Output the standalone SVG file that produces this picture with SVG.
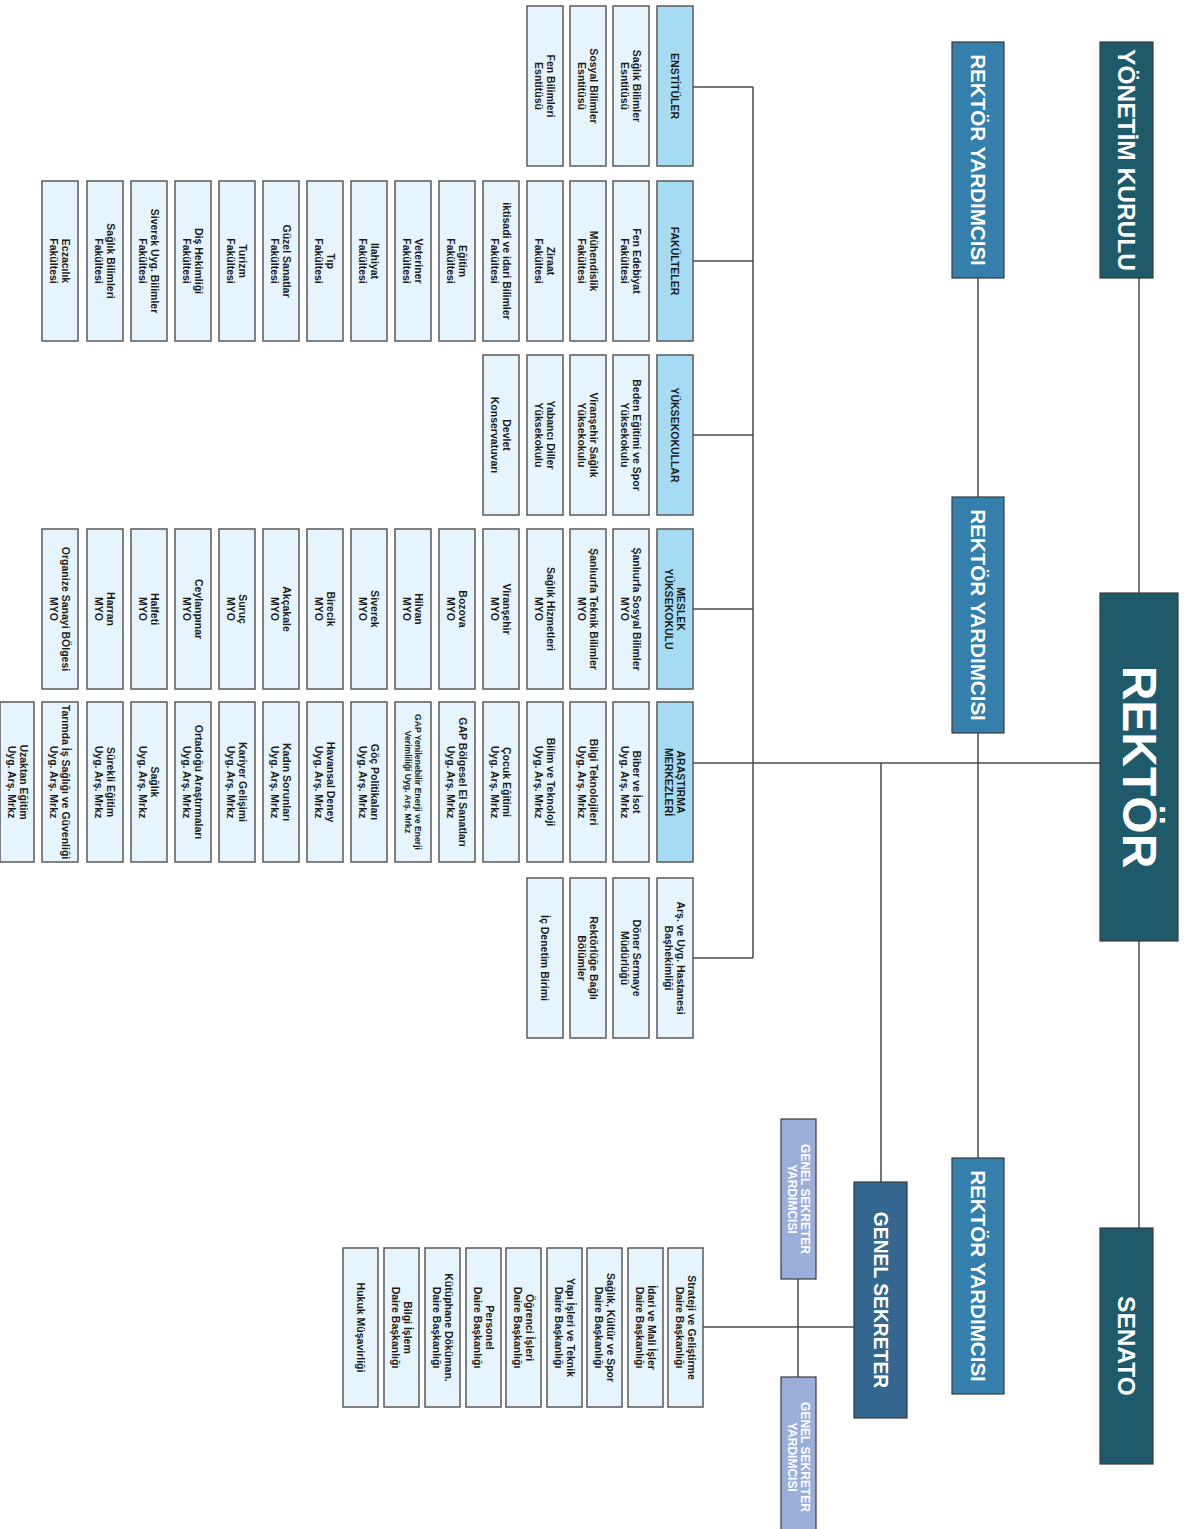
<svg xmlns="http://www.w3.org/2000/svg" width="1184" height="1529" viewBox="0 0 1184 1529">
<style>
.bg{fill:#ffffff}
.c{fill:#e6f5fd;stroke:#5a5a5a;stroke-width:1.5}
.h{fill:#a6dbf4;stroke:#5a5a5a;stroke-width:1.5}
.dk{fill:#1f5a6b;stroke:#3a3a3a;stroke-width:1.2}
.ry{fill:#347fab;stroke:#3a3a3a;stroke-width:1.2}
.gs{fill:#33678f;stroke:#3a3a3a;stroke-width:1.2}
.gsy{fill:#9aaed9;stroke:#3a3a3a;stroke-width:1.2}
text{font-family:"Liberation Sans",Arial,sans-serif;font-weight:bold;text-anchor:middle;dominant-baseline:central}
.t{font-size:10.5px;fill:#1a1a1a}
.ts{font-size:8.6px;fill:#1a1a1a}
.w{fill:#ffffff}
.lines line{stroke:#4a4a4a;stroke-width:1.5;fill:none}
</style>
<rect class="bg" x="0" y="0" width="1184" height="1529"/>

<g id="connectors" class="lines">
<line x1="1139" y1="278" x2="1139" y2="1228"/>
<line x1="978" y1="278" x2="978" y2="497"/>
<line x1="978" y1="733" x2="978" y2="1158"/>
<line x1="692" y1="763" x2="1100" y2="763"/>
<line x1="881" y1="763" x2="881" y2="1182"/>
<line x1="753" y1="87" x2="753" y2="958"/>
<line x1="692" y1="87" x2="753" y2="87"/>
<line x1="692" y1="261" x2="753" y2="261"/>
<line x1="692" y1="435" x2="753" y2="435"/>
<line x1="692" y1="609" x2="753" y2="609"/>
<line x1="692" y1="958" x2="753" y2="958"/>
<line x1="703" y1="1327" x2="854" y2="1327"/>
<line x1="798" y1="1279" x2="798" y2="1377"/>
</g>

<!-- top level -->
<g id="yonetim-kurulu"><rect class="dk" x="1100" y="42" width="53" height="236"/><text class="w" font-size="24.5" transform="translate(1126.5,160) rotate(90)">YÖNETİM KURULU</text></g>
<g id="rektor"><rect class="dk" x="1100" y="593" width="78" height="348"/><text class="w" font-size="48" transform="translate(1139,767) rotate(90)">REKTÖR</text></g>
<g id="senato"><rect class="dk" x="1100" y="1228" width="53" height="236"/><text class="w" font-size="24.5" transform="translate(1126.5,1346) rotate(90)">SENATO</text></g>
<g id="rektor-yardimcisi-1"><rect class="ry" x="952" y="42" width="52" height="236"/><text class="w" font-size="20.6" transform="translate(978,160) rotate(90)">REKTÖR YARDIMCISI</text></g>
<g id="rektor-yardimcisi-2"><rect class="ry" x="952" y="497" width="52" height="236"/><text class="w" font-size="20.6" transform="translate(978,615) rotate(90)">REKTÖR YARDIMCISI</text></g>
<g id="rektor-yardimcisi-3"><rect class="ry" x="952" y="1158" width="52" height="236"/><text class="w" font-size="20.6" transform="translate(978,1276) rotate(90)">REKTÖR YARDIMCISI</text></g>
<g id="genel-sekreter"><rect class="gs" x="854" y="1182" width="53" height="236"/><text class="w" font-size="19.3" transform="translate(880.5,1300) rotate(90)">GENEL SEKRETER</text></g>
<g id="gs-yardimcisi-1"><rect class="gsy" x="781" y="1119" width="35" height="160"/><text class="w" font-size="12" transform="translate(798.5,1199) rotate(90)"><tspan x="0" y="-6.5">GENEL SEKRETER</tspan><tspan x="0" y="6.5">YARDIMCISI</tspan></text></g>
<g id="gs-yardimcisi-2"><rect class="gsy" x="781" y="1377" width="35" height="160"/><text class="w" font-size="12" transform="translate(798.5,1457) rotate(90)"><tspan x="0" y="-6.5">GENEL SEKRETER</tspan><tspan x="0" y="6.5">YARDIMCISI</tspan></text></g>

<!-- Row 1: Enstitüler -->
<g id="enstituler"><rect class="h" x="657" y="6" width="36" height="160"/><text class="t" transform="translate(675,86) rotate(90)">ENSTİTÜLER</text></g>
<g id="saglik-bilimler-enst"><rect class="c" x="613" y="6" width="36" height="160"/><text class="t" transform="translate(631,86) rotate(90)"><tspan x="0" y="-6">Sağlık Bilimler</tspan><tspan x="0" y="6">Esntitüsü</tspan></text></g>
<g id="sosyal-bilimler-enst"><rect class="c" x="570" y="6" width="36" height="160"/><text class="t" transform="translate(588,86) rotate(90)"><tspan x="0" y="-6">Sosyal Bilimler</tspan><tspan x="0" y="6">Esntitüsü</tspan></text></g>
<g id="fen-bilimleri-enst"><rect class="c" x="527" y="6" width="36" height="160"/><text class="t" transform="translate(545,86) rotate(90)"><tspan x="0" y="-6">Fen Bilimleri</tspan><tspan x="0" y="6">Esntitüsü</tspan></text></g>

<!-- Row 2: Fakülteler -->
<g id="fakulteler"><rect class="h" x="657" y="181" width="36" height="160"/><text class="t" transform="translate(675,261) rotate(90)">FAKÜLTELER</text></g>
<g id="fen-edebiyat"><rect class="c" x="613" y="181" width="36" height="160"/><text class="t" transform="translate(631,261) rotate(90)"><tspan x="0" y="-6">Fen Edebiyat</tspan><tspan x="0" y="6">Fakültesi</tspan></text></g>
<g id="muhendislik"><rect class="c" x="570" y="181" width="36" height="160"/><text class="t" transform="translate(588,261) rotate(90)"><tspan x="0" y="-6">Mühendislik</tspan><tspan x="0" y="6">Fakültesi</tspan></text></g>
<g id="ziraat"><rect class="c" x="527" y="181" width="36" height="160"/><text class="t" transform="translate(545,261) rotate(90)"><tspan x="0" y="-6">Ziraat</tspan><tspan x="0" y="6">Fakültesi</tspan></text></g>
<g id="iktisadi"><rect class="c" x="483" y="181" width="36" height="160"/><text class="t" transform="translate(501,261) rotate(90)"><tspan x="0" y="-6">iktisadi ve idari Bilimler</tspan><tspan x="0" y="6">Fakültesi</tspan></text></g>
<g id="egitim"><rect class="c" x="439" y="181" width="36" height="160"/><text class="t" transform="translate(457,261) rotate(90)"><tspan x="0" y="-6">Eğitim</tspan><tspan x="0" y="6">Fakültesi</tspan></text></g>
<g id="veteriner"><rect class="c" x="395" y="181" width="36" height="160"/><text class="t" transform="translate(413,261) rotate(90)"><tspan x="0" y="-6">Veteriner</tspan><tspan x="0" y="6">Fakültesi</tspan></text></g>
<g id="ilahiyat"><rect class="c" x="351" y="181" width="36" height="160"/><text class="t" transform="translate(369,261) rotate(90)"><tspan x="0" y="-6">Ilahiyat</tspan><tspan x="0" y="6">Fakültesi</tspan></text></g>
<g id="tip"><rect class="c" x="307" y="181" width="36" height="160"/><text class="t" transform="translate(325,261) rotate(90)"><tspan x="0" y="-6">Tıp</tspan><tspan x="0" y="6">Fakültesi</tspan></text></g>
<g id="guzel-sanatlar"><rect class="c" x="263" y="181" width="36" height="160"/><text class="t" transform="translate(281,261) rotate(90)"><tspan x="0" y="-6">Güzel Sanatlar</tspan><tspan x="0" y="6">Fakültesi</tspan></text></g>
<g id="turizm"><rect class="c" x="219" y="181" width="36" height="160"/><text class="t" transform="translate(237,261) rotate(90)"><tspan x="0" y="-6">Turizm</tspan><tspan x="0" y="6">Fakültesi</tspan></text></g>
<g id="dis-hekimligi"><rect class="c" x="175" y="181" width="36" height="160"/><text class="t" transform="translate(193,261) rotate(90)"><tspan x="0" y="-6">Diş Hekimliği</tspan><tspan x="0" y="6">Fakültesi</tspan></text></g>
<g id="siverek-uyg"><rect class="c" x="131" y="181" width="36" height="160"/><text class="t" transform="translate(149,261) rotate(90)"><tspan x="0" y="-6">Siverek Uyg. Bilimler</tspan><tspan x="0" y="6">Fakültesi</tspan></text></g>
<g id="saglik-bilimleri-fak"><rect class="c" x="87" y="181" width="36" height="160"/><text class="t" transform="translate(105,261) rotate(90)"><tspan x="0" y="-6">Sağlık Bilimleri</tspan><tspan x="0" y="6">Fakültesi</tspan></text></g>
<g id="eczacilik"><rect class="c" x="42" y="181" width="36" height="160"/><text class="t" transform="translate(60,261) rotate(90)"><tspan x="0" y="-6">Eczacılık</tspan><tspan x="0" y="6">Fakültesi</tspan></text></g>

<!-- Row 3: Yüksekokullar -->
<g id="yuksekokullar"><rect class="h" x="657" y="355" width="36" height="160"/><text class="t" transform="translate(675,435) rotate(90)">YÜKSEKOKULLAR</text></g>
<g id="beden-egitimi"><rect class="c" x="613" y="355" width="36" height="160"/><text class="t" transform="translate(631,435) rotate(90)"><tspan x="0" y="-6">Beden Eğitimi ve Spor</tspan><tspan x="0" y="6">Yüksekokulu</tspan></text></g>
<g id="viransehir-saglik"><rect class="c" x="570" y="355" width="36" height="160"/><text class="t" transform="translate(588,435) rotate(90)"><tspan x="0" y="-6">Viranşehir Sağlık</tspan><tspan x="0" y="6">Yüksekokulu</tspan></text></g>
<g id="yabanci-diller"><rect class="c" x="527" y="355" width="36" height="160"/><text class="t" transform="translate(545,435) rotate(90)"><tspan x="0" y="-6">Yabancı Diller</tspan><tspan x="0" y="6">Yüksekokulu</tspan></text></g>
<g id="devlet-konservatuvari"><rect class="c" x="483" y="355" width="36" height="160"/><text class="t" transform="translate(501,435) rotate(90)"><tspan x="0" y="-6">Devlet</tspan><tspan x="0" y="6">Konservatuvarı</tspan></text></g>

<!-- Row 4: Meslek Yüksekokulu -->
<g id="meslek-yuksekokulu"><rect class="h" x="657" y="529" width="36" height="160"/><text class="t" transform="translate(675,609) rotate(90)"><tspan x="0" y="-6">MESLEK</tspan><tspan x="0" y="6">YÜKSEKOKULU</tspan></text></g>
<g id="sosyal-bilimler-myo"><rect class="c" x="613" y="529" width="36" height="160"/><text class="t" transform="translate(631,609) rotate(90)"><tspan x="0" y="-6">Şanlıurfa Sosyal Bilimler</tspan><tspan x="0" y="6">MYO</tspan></text></g>
<g id="teknik-bilimler-myo"><rect class="c" x="570" y="529" width="36" height="160"/><text class="t" transform="translate(588,609) rotate(90)"><tspan x="0" y="-6">Şanlıurfa Teknik Bilimler</tspan><tspan x="0" y="6">MYO</tspan></text></g>
<g id="saglik-hizmetleri-myo"><rect class="c" x="527" y="529" width="36" height="160"/><text class="t" transform="translate(545,609) rotate(90)"><tspan x="0" y="-6">Sağlık Hizmetleri</tspan><tspan x="0" y="6">MYO</tspan></text></g>
<g id="viransehir-myo"><rect class="c" x="483" y="529" width="36" height="160"/><text class="t" transform="translate(501,609) rotate(90)"><tspan x="0" y="-6">Viranşehir</tspan><tspan x="0" y="6">MYO</tspan></text></g>
<g id="bozova-myo"><rect class="c" x="439" y="529" width="36" height="160"/><text class="t" transform="translate(457,609) rotate(90)"><tspan x="0" y="-6">Bozova</tspan><tspan x="0" y="6">MYO</tspan></text></g>
<g id="hilvan-myo"><rect class="c" x="395" y="529" width="36" height="160"/><text class="t" transform="translate(413,609) rotate(90)"><tspan x="0" y="-6">Hilvan</tspan><tspan x="0" y="6">MYO</tspan></text></g>
<g id="siverek-myo"><rect class="c" x="351" y="529" width="36" height="160"/><text class="t" transform="translate(369,609) rotate(90)"><tspan x="0" y="-6">Siverek</tspan><tspan x="0" y="6">MYO</tspan></text></g>
<g id="birecik-myo"><rect class="c" x="307" y="529" width="36" height="160"/><text class="t" transform="translate(325,609) rotate(90)"><tspan x="0" y="-6">Birecik</tspan><tspan x="0" y="6">MYO</tspan></text></g>
<g id="akcakale-myo"><rect class="c" x="263" y="529" width="36" height="160"/><text class="t" transform="translate(281,609) rotate(90)"><tspan x="0" y="-6">Akçakale</tspan><tspan x="0" y="6">MYO</tspan></text></g>
<g id="suruc-myo"><rect class="c" x="219" y="529" width="36" height="160"/><text class="t" transform="translate(237,609) rotate(90)"><tspan x="0" y="-6">Suruç</tspan><tspan x="0" y="6">MYO</tspan></text></g>
<g id="ceylanpinar-myo"><rect class="c" x="175" y="529" width="36" height="160"/><text class="t" transform="translate(193,609) rotate(90)"><tspan x="0" y="-6">Ceylanpınar</tspan><tspan x="0" y="6">MYO</tspan></text></g>
<g id="halfeti-myo"><rect class="c" x="131" y="529" width="36" height="160"/><text class="t" transform="translate(149,609) rotate(90)"><tspan x="0" y="-6">Halfeti</tspan><tspan x="0" y="6">MYO</tspan></text></g>
<g id="harran-myo"><rect class="c" x="87" y="529" width="36" height="160"/><text class="t" transform="translate(105,609) rotate(90)"><tspan x="0" y="-6">Harran</tspan><tspan x="0" y="6">MYO</tspan></text></g>
<g id="organize-sanayi-myo"><rect class="c" x="42" y="529" width="36" height="160"/><text class="t" transform="translate(60,609) rotate(90)"><tspan x="0" y="-6">Organize Sanayi BÖlgesi</tspan><tspan x="0" y="6">MYO</tspan></text></g>

<!-- Row 5: Araştırma Merkezleri -->
<g id="arastirma-merkezleri"><rect class="h" x="657" y="702" width="36" height="160"/><text class="t" transform="translate(675,782) rotate(90)"><tspan x="0" y="-6">ARAŞTIRMA</tspan><tspan x="0" y="6">MERKEZLERİ</tspan></text></g>
<g id="biber-isot"><rect class="c" x="613" y="702" width="36" height="160"/><text class="t" transform="translate(631,782) rotate(90)"><tspan x="0" y="-6">Biber ve İsot</tspan><tspan x="0" y="6">Uyg. Arş. Mrkz</tspan></text></g>
<g id="bilgi-teknolojileri"><rect class="c" x="570" y="702" width="36" height="160"/><text class="t" transform="translate(588,782) rotate(90)"><tspan x="0" y="-6">Bilgi Teknolojileri</tspan><tspan x="0" y="6">Uyg. Arş. Mrkz</tspan></text></g>
<g id="bilim-teknoloji"><rect class="c" x="527" y="702" width="36" height="160"/><text class="t" transform="translate(545,782) rotate(90)"><tspan x="0" y="-6">Bilim ve Teknoloji</tspan><tspan x="0" y="6">Uyg. Arş. Mrkz</tspan></text></g>
<g id="cocuk-egitimi"><rect class="c" x="483" y="702" width="36" height="160"/><text class="t" transform="translate(501,782) rotate(90)"><tspan x="0" y="-6">Çocuk Eğitimi</tspan><tspan x="0" y="6">Uyg. Arş. Mrkz</tspan></text></g>
<g id="gap-el-sanatlari"><rect class="c" x="439" y="702" width="36" height="160"/><text class="t" transform="translate(457,782) rotate(90)"><tspan x="0" y="-6">GAP Bölgesel El Sanatları</tspan><tspan x="0" y="6">Uyg. Arş. Mrkz</tspan></text></g>
<g id="gap-yenilenebilir"><rect class="c" x="395" y="702" width="36" height="160"/><text class="ts" transform="translate(413,782) rotate(90)"><tspan x="0" y="-5">GAP Yenilenebilir Enerji ve Enerji</tspan><tspan x="0" y="5">Verimliliği Uyg. Arş. Mrkz</tspan></text></g>
<g id="goc-politikalari"><rect class="c" x="351" y="702" width="36" height="160"/><text class="t" transform="translate(369,782) rotate(90)"><tspan x="0" y="-6">Göç Politikaları</tspan><tspan x="0" y="6">Uyg. Arş. Mrkz</tspan></text></g>
<g id="havansal-deney"><rect class="c" x="307" y="702" width="36" height="160"/><text class="t" transform="translate(325,782) rotate(90)"><tspan x="0" y="-6">Havansal Deney</tspan><tspan x="0" y="6">Uyg. Arş. Mrkz</tspan></text></g>
<g id="kadin-sorunlari"><rect class="c" x="263" y="702" width="36" height="160"/><text class="t" transform="translate(281,782) rotate(90)"><tspan x="0" y="-6">Kadın Sorunları</tspan><tspan x="0" y="6">Uyg. Arş. Mrkz</tspan></text></g>
<g id="kariyer-gelisimi"><rect class="c" x="219" y="702" width="36" height="160"/><text class="t" transform="translate(237,782) rotate(90)"><tspan x="0" y="-6">Kariyer Gelişimi</tspan><tspan x="0" y="6">Uyg. Arş. Mrkz</tspan></text></g>
<g id="ortadogu"><rect class="c" x="175" y="702" width="36" height="160"/><text class="t" transform="translate(193,782) rotate(90)"><tspan x="0" y="-6">Ortadoğu Araştırmaları</tspan><tspan x="0" y="6">Uyg. Arş. Mrkz</tspan></text></g>
<g id="saglik-uam"><rect class="c" x="131" y="702" width="36" height="160"/><text class="t" transform="translate(149,782) rotate(90)"><tspan x="0" y="-6">Sağlık</tspan><tspan x="0" y="6">Uyg. Arş. Mrkz</tspan></text></g>
<g id="surekli-egitim"><rect class="c" x="87" y="702" width="36" height="160"/><text class="t" transform="translate(105,782) rotate(90)"><tspan x="0" y="-6">Sürekli Eğitim</tspan><tspan x="0" y="6">Uyg. Arş. Mrkz</tspan></text></g>
<g id="tarimda-is-sagligi"><rect class="c" x="42" y="702" width="36" height="160"/><text class="t" font-size="10.2" transform="translate(60,782) rotate(90)"><tspan x="0" y="-6">Tarımda İş Sağlığı ve Güvenliği</tspan><tspan x="0" y="6">Uyg. Arş. Mrkz</tspan></text></g>
<g id="uzaktan-egitim"><rect class="c" x="0" y="702" width="34" height="160"/><text class="t" transform="translate(18,782) rotate(90)"><tspan x="0" y="-6">Uzaktan Eğitim</tspan><tspan x="0" y="6">Uyg. Arş. Mrkz</tspan></text></g>

<!-- Row 6 -->
<g id="hastane"><rect class="c" x="657" y="878" width="36" height="160"/><text class="t" transform="translate(675,958) rotate(90)"><tspan x="0" y="-6">Arş. ve Uyg. Hastanesi</tspan><tspan x="0" y="6">Başhekimliği</tspan></text></g>
<g id="doner-sermaye"><rect class="c" x="613" y="878" width="36" height="160"/><text class="t" transform="translate(631,958) rotate(90)"><tspan x="0" y="-6">Döner Sermaye</tspan><tspan x="0" y="6">Müdürlüğü</tspan></text></g>
<g id="rektorluge-bagli"><rect class="c" x="570" y="878" width="36" height="160"/><text class="t" transform="translate(588,958) rotate(90)"><tspan x="0" y="-6">Rektörlüğe Bağlı</tspan><tspan x="0" y="6">Bölümler</tspan></text></g>
<g id="ic-denetim"><rect class="c" x="527" y="878" width="36" height="160"/><text class="t" transform="translate(545,958) rotate(90)">İç Denetim Birimi</text></g>

<!-- Genel Sekreter children -->
<g id="strateji"><rect class="c" x="668" y="1248" width="35" height="159"/><text class="t" transform="translate(685.5,1327.5) rotate(90)"><tspan x="0" y="-6">Strateji ve Geliştirme</tspan><tspan x="0" y="6">Daire Başkanlığı</tspan></text></g>
<g id="idari-mali"><rect class="c" x="628" y="1248" width="35" height="159"/><text class="t" transform="translate(645.5,1327.5) rotate(90)"><tspan x="0" y="-6">İdari ve Mali İşler</tspan><tspan x="0" y="6">Daire Başkanlığı</tspan></text></g>
<g id="saglik-kultur-spor"><rect class="c" x="587" y="1248" width="35" height="159"/><text class="t" transform="translate(604.5,1327.5) rotate(90)"><tspan x="0" y="-6">Sağlık, Kültür ve Spor</tspan><tspan x="0" y="6">Daire Başkanlığı</tspan></text></g>
<g id="yapi-isleri"><rect class="c" x="547" y="1248" width="35" height="159"/><text class="t" transform="translate(564.5,1327.5) rotate(90)"><tspan x="0" y="-6">Yapı İşleri ve Teknik</tspan><tspan x="0" y="6">Daire Başkanlığı</tspan></text></g>
<g id="ogrenci-isleri"><rect class="c" x="506" y="1248" width="35" height="159"/><text class="t" transform="translate(523.5,1327.5) rotate(90)"><tspan x="0" y="-6">Öğrenci İşleri</tspan><tspan x="0" y="6">Daire Başkanlığı</tspan></text></g>
<g id="personel"><rect class="c" x="466" y="1248" width="35" height="159"/><text class="t" transform="translate(483.5,1327.5) rotate(90)"><tspan x="0" y="-6">Personel</tspan><tspan x="0" y="6">Daire Başkanlığı</tspan></text></g>
<g id="kutuphane"><rect class="c" x="425" y="1248" width="35" height="159"/><text class="t" transform="translate(442.5,1327.5) rotate(90)"><tspan x="0" y="-6">Kütüphane Döküman.</tspan><tspan x="0" y="6">Daire Başkanlığı</tspan></text></g>
<g id="bilgi-islem"><rect class="c" x="384" y="1248" width="35" height="159"/><text class="t" transform="translate(401.5,1327.5) rotate(90)"><tspan x="0" y="-6">Bilgi İşlem</tspan><tspan x="0" y="6">Daire Başkanlığı</tspan></text></g>
<g id="hukuk"><rect class="c" x="343" y="1248" width="35" height="159"/><text class="t" transform="translate(360.5,1327.5) rotate(90)">Hukuk Müşavirliği</text></g>
</svg>
